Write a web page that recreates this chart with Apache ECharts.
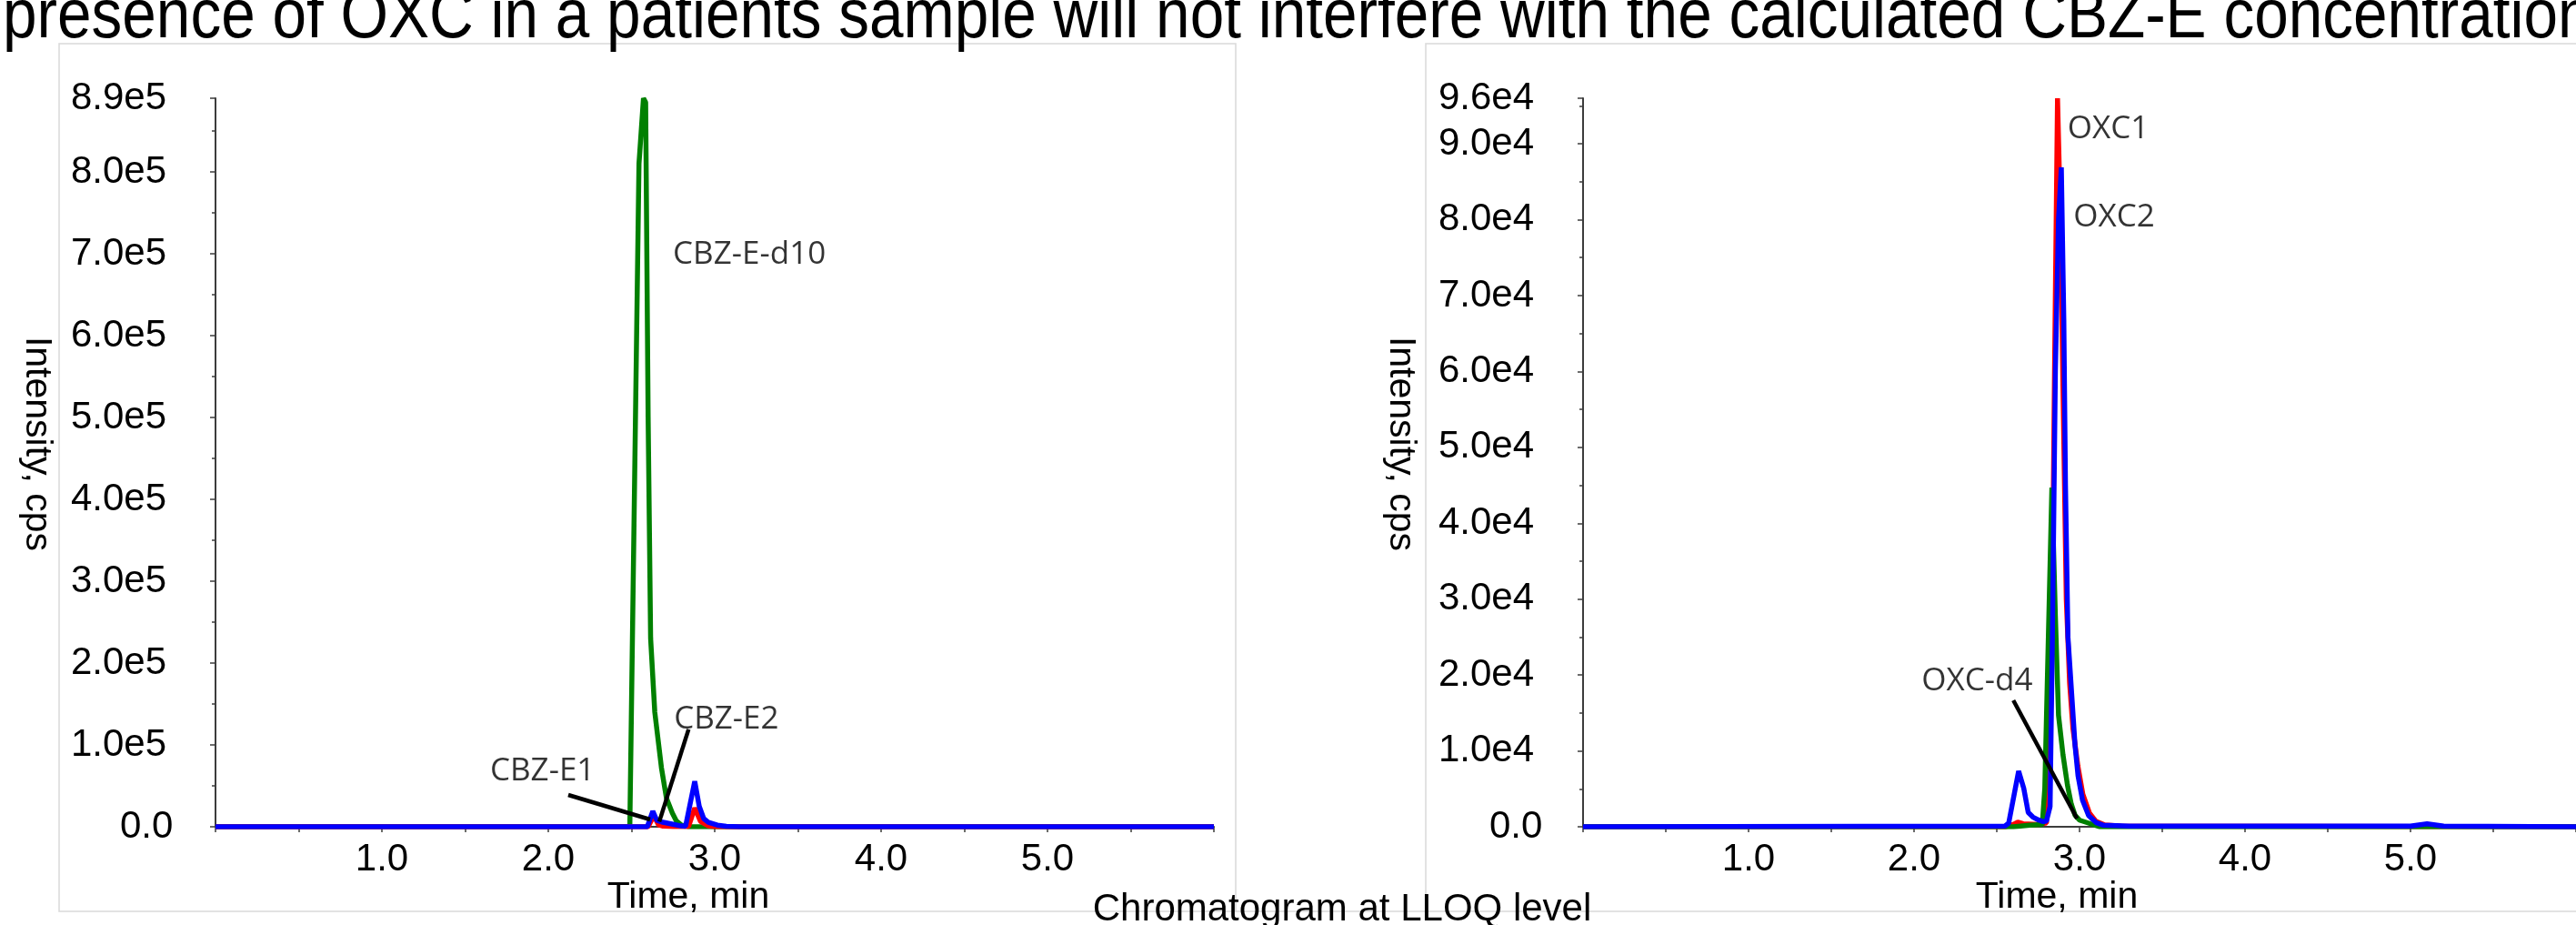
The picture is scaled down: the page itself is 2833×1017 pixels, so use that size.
<!DOCTYPE html>
<html><head><meta charset="utf-8">
<script src="https://cdn.jsdelivr.net/npm/echarts@6/dist/echarts.min.js"></script>
<style>html,body{margin:0;padding:0;background:#fff;overflow:hidden}#c{width:2833px;height:1017px}</style>
</head><body><div id="c"></div>
<script>
// ---------- texts ----------
const titleText = 'presence of OXC in a patients sample will not interfere with the calculated CBZ-E concentration';
const captionText = 'Chromatogram at LLOQ level';
const xAxisName = 'Time, min';
const yAxisName = 'Intensity, cps';

// ---------- axes ----------
const xMin = 0, xMax = 6, xInterval = 1;
const leftYMax = 890000, leftYInterval = 100000, leftExp = 5;
const rightYMax = 96000, rightYInterval = 10000, rightExp = 4;

// ---------- left panel (CBZ-E), [time min, intensity cps] ----------
const cbzE_d10 = [[0,0],[2.49,0],[2.50,2000],[2.545,810000],[2.572,890000],[2.585,885000],[2.60,500000],[2.615,230000],[2.64,140000],[2.68,72000],[2.71,35000],[2.745,17000],[2.77,7000],[2.80,2000],[2.85,0],[6,0]];
const cbzE_1 = [[0,0],[2.60,0],[2.634,13700],[2.662,2500],[2.69,800],[2.75,300],[2.843,300],[2.88,23000],[2.915,6500],[2.96,1200],[3.0,300],[3.1,0],[6,0]];
const cbzE_2 = [[0,0],[2.595,0],[2.628,19000],[2.652,8000],[2.689,5500],[2.743,3300],[2.798,1000],[2.825,500],[2.88,55500],[2.907,25000],[2.934,10000],[2.962,5500],[3.016,2000],[3.07,600],[3.15,0],[6,0]];
const cbzE1Leader = [[2.12,38900],[2.612,8900]];
const cbzE2Leader = [[2.843,119000],[2.667,6300]];
const leftNames = ['CBZ-E-d10','CBZ-E2','CBZ-E1'];
const leftNameAt = [[2.749,699000],[2.755,131000],[1.650,67800]];

// ---------- right panel (OXC) ----------
const oxc_d4 = [[0,0],[2.60,0],[2.70,200],[2.775,300],[2.79,5000],[2.833,44700],[2.854,27800],[2.873,14700],[2.90,9500],[2.927,5500],[2.95,3000],[2.973,1500],[3.0,870],[3.055,480],[3.12,0],[6,0]];
const oxc_1 = [[0,0],[2.55,0],[2.60,300],[2.627,600],[2.66,400],[2.75,300],[2.80,500],[2.83,18000],[2.85,62000],[2.867,96000],[2.885,80000],[2.90,58000],[2.92,30000],[2.94,19000],[2.96,13000],[2.99,8000],[3.02,4300],[3.06,1800],[3.10,700],[3.15,250],[3.25,100],[6,0]];
const oxc_2 = [[0,0],[2.55,100],[2.572,480],[2.632,7350],[2.663,5070],[2.69,1880],[2.718,1280],[2.754,870],[2.781,680],[2.80,750],[2.822,2670],[2.836,25000],[2.854,60000],[2.873,80000],[2.89,86900],[2.905,66800],[2.915,45000],[2.93,25000],[2.955,16700],[2.973,10700],[2.991,6700],[3.018,3500],[3.055,1470],[3.10,560],[3.145,200],[3.3,100],[5.0,100],[5.1,400],[5.2,100],[6,0]];
const oxcD4Leader = [[2.60,16660],[2.985,1080]];
const rightNames = ['OXC1','OXC2','OXC-d4'];
const rightNameAt = [[2.927,91900],[2.963,80300],[2.717,19180]];
const rightNameSide = ['right','right','left'];

const GREEN = '#008000', RED = '#ff0000', BLUE = '#0000ff';
const FONT = 'Liberation Sans';
const AXIS_COLOR = '#3c3c3c';
const LW = 5.5;

function makeX(gi){
  return {
    type:'value', gridIndex:gi, min:xMin, max:xMax, interval:xInterval,
    axisLine:{show:true, onZero:false, lineStyle:{color:AXIS_COLOR, width:2}},
    axisTick:{show:true, length:6, lineStyle:{color:AXIS_COLOR, width:1.5}},
    minorTick:{show:true, splitNumber:2, length:6, lineStyle:{color:AXIS_COLOR, width:1.5}},
    splitLine:{show:false},
    axisLabel:{show:true, showMinLabel:false, showMaxLabel:false, margin:15,
      fontFamily:FONT, fontSize:42, color:'#000',
      formatter: v => v.toFixed(1)}
  };
}
function makeY(gi, max, interval, exp, zw){
  return {
    type:'value', gridIndex:gi, min:0, max:max, interval:interval,
    axisLine:{show:true, lineStyle:{color:AXIS_COLOR, width:2}},
    axisTick:{show:true, length:6, lineStyle:{color:AXIS_COLOR, width:1.5}},
    minorTick:{show:true, splitNumber:2, length:4, lineStyle:{color:AXIS_COLOR, width:1.5}},
    splitLine:{show:false},
    axisLabel:{show:true, showMaxLabel:true, showMinLabel:true, margin:54,
      fontFamily:FONT, fontSize:42, color:'#000',
      formatter: v => v === 0 ? '{z|0.0}' : (v/Math.pow(10,exp)).toFixed(1)+'e'+exp,
      rich:{z:{width:zw, align:'left', fontFamily:FONT, fontSize:42, color:'#000'}}}
  };
}
function trace(data, color, gi, z){
  return {type:'line', xAxisIndex:gi, yAxisIndex:gi, data:data, showSymbol:false, symbol:'none',
    lineStyle:{color:color, width:LW}, itemStyle:{color:color}, z:z, animation:false, silent:true};
}
function leader(data, gi){
  return {type:'line', xAxisIndex:gi, yAxisIndex:gi, data:data, showSymbol:false, symbol:'none',
    lineStyle:{color:'#000', width:4.5}, z:10, animation:false, silent:true};
}
function names(labels, at, sides, gi){
  return {type:'scatter', xAxisIndex:gi, yAxisIndex:gi, symbolSize:0, z:11, animation:false, silent:true,
    data: labels.map((n,i)=>({value:at[i], label:{show:true, formatter:n, position:sides[i], distance:0,
      fontFamily:'Open Sans', fontSize:35, color:'#000'}}))};
}

const chart = echarts.init(document.getElementById('c'), null, {renderer:'canvas'});
chart.setOption({
  backgroundColor:'#fff',
  animation:false,
  grid:[
    {left:237, top:108, width:1098, height:801, containLabel:false},
    {left:1741, top:108, width:1098, height:801, containLabel:false}
  ],
  xAxis:[makeX(0), makeX(1)],
  yAxis:[makeY(0, leftYMax, leftYInterval, leftExp, 51), makeY(1, rightYMax, rightYInterval, rightExp, 49)],
  series:[
    trace(cbzE_d10, GREEN, 0, 2),
    trace(cbzE_1, RED, 0, 3),
    trace(cbzE_2, BLUE, 0, 4),
    leader(cbzE1Leader, 0),
    leader(cbzE2Leader, 0),
    names(leftNames, leftNameAt, ['right','right','right'], 0),
    trace(oxc_1, RED, 1, 2),
    trace(oxc_d4, GREEN, 1, 3),
    trace(oxc_2, BLUE, 1, 4),
    leader(oxcD4Leader, 1),
    names(rightNames, rightNameAt, rightNameSide, 1)
  ],
  graphic:[
    {type:'rect', z:-1, shape:{x:65, y:48, width:1294, height:954}, style:{fill:'none', stroke:'#d9d9d9', lineWidth:1.5}},
    {type:'rect', z:-1, shape:{x:1568, y:48, width:1400, height:954}, style:{fill:'none', stroke:'#d9d9d9', lineWidth:1.5}},
    {type:'line', z:-1, shape:{x1:1359, y1:1002, x2:1568, y2:1002}, style:{stroke:'#d9d9d9', lineWidth:1.5}},
    {type:'text', z:5, x:3, y:20, scaleY:1.12, style:{text:titleText, font:'67.5px "Liberation Sans"', fill:'#000', textAlign:'left', textVerticalAlign:'middle'}},
    {type:'text', z:5, x:40, y:488, rotation:-Math.PI/2, style:{text:yAxisName, font:'41px "Liberation Sans"', fill:'#000', textAlign:'center', textVerticalAlign:'middle'}},
    {type:'text', z:5, x:1540, y:488, rotation:-Math.PI/2, style:{text:yAxisName, font:'41px "Liberation Sans"', fill:'#000', textAlign:'center', textVerticalAlign:'middle'}},
    {type:'text', z:5, x:757, y:987, style:{text:xAxisName, font:'41px "Liberation Sans"', fill:'#000', textAlign:'center', textVerticalAlign:'middle'}},
    {type:'text', z:5, x:2262, y:987, style:{text:xAxisName, font:'41px "Liberation Sans"', fill:'#000', textAlign:'center', textVerticalAlign:'middle'}},
    {type:'text', z:5, x:1476, y:1000, style:{text:captionText, font:'42px "Liberation Sans"', fill:'#000', textAlign:'center', textVerticalAlign:'middle'}}
  ]
});
</script></body></html>
